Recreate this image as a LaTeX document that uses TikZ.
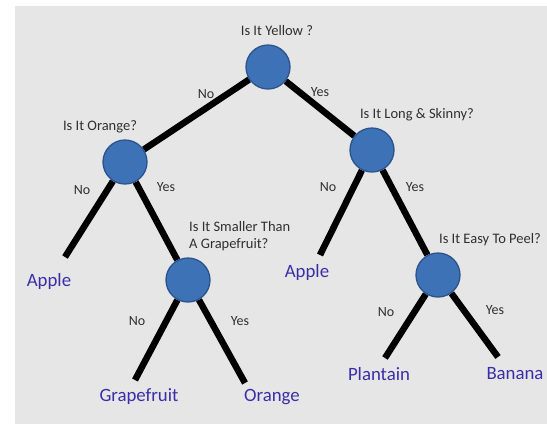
\documentclass[tikz,border=0pt]{standalone}
\usepackage{fontspec}
\setmainfont{Carlito}
\definecolor{panel}{RGB}{230,230,230}
\definecolor{nodefill}{RGB}{62,114,183}
\definecolor{nodeedge}{RGB}{44,84,140}
\definecolor{leafblue}{RGB}{58,46,168}
\definecolor{txtgray}{RGB}{48,48,48}
\pgfdeclarelayer{background}
\pgfsetlayers{background,main}
\tikzset{
  decision/.style={circle, minimum size=44pt, inner sep=0pt, fill=nodefill, draw=nodeedge, line width=1.3pt},
  branch/.style={line width=6.5pt, black},
  question/.style={text=txtgray, font=\fontsize{14.5}{17}\selectfont, inner sep=0pt},
  answer/.style={text=txtgray, font=\fontsize{14}{16}\selectfont, inner sep=0pt},
  leaf/.style={text=leafblue, font=\fontsize{18.8}{21}\selectfont, inner sep=0pt},
}
\begin{document}
\begin{tikzpicture}[x=1pt, y=-1pt]
  \useasboundingbox (0,0) rectangle (547,424);

  % decision nodes
  \node[decision] (yellow)  at (268,67)  {};
  \node[decision] (orange)  at (125,162) {};
  \node[decision] (skinny)  at (372,150) {};
  \node[decision] (smaller) at (188,280) {};
  \node[decision] (peel)    at (438,275) {};

  % free ends of the branches to the leaves
  \coordinate (eApple1) at (65,257);
  \coordinate (eGrape)  at (135,380);
  \coordinate (eOrange) at (245,383);
  \coordinate (eApple2) at (320,255);
  \coordinate (ePlant)  at (385,358);
  \coordinate (eBanana) at (498,357);

  % panel and branches, kept beneath the circles
  \begin{pgfonlayer}{background}
    \fill[panel] (15,6) rectangle (547,424);
    \draw[branch] (yellow) -- (orange);
    \draw[branch] (yellow) -- (skinny);
    \draw[branch] (orange) -- (eApple1);
    \draw[branch] (orange) -- (smaller);
    \draw[branch] (skinny) -- (eApple2);
    \draw[branch] (skinny) -- (peel);
    \draw[branch] (smaller) -- (eGrape);
    \draw[branch] (smaller) -- (eOrange);
    \draw[branch] (peel) -- (ePlant);
    \draw[branch] (peel) -- (eBanana);
  \end{pgfonlayer}

  % questions
  \node[question] (qYellow) at (277,31)  {Is It Yellow ?};
  \node[question] (qOrange) at (100,127) {Is It Orange?};
  \node[question] (qSkinny) at (417,115) {Is It Long \& Skinny?};
  \node[question, anchor=west, align=left] (qSmaller) at (189,236) {Is It Smaller Than\\A Grapefruit?};
  \node[question] (qPeel)   at (490,240) {Is It Easy To Peel?};

  % answers
  \node[answer] (a1) at (206,94)  {No};
  \node[answer] (a2) at (320,92)  {Yes};
  \node[answer] (a3) at (82,190)  {No};
  \node[answer] (a4) at (166,187) {Yes};
  \node[answer] (a5) at (328,187) {No};
  \node[answer] (a6) at (415,187) {Yes};
  \node[answer] (a7) at (137,321) {No};
  \node[answer] (a8) at (240,321) {Yes};
  \node[answer] (a9) at (386,312) {No};
  \node[answer] (a10) at (495,310) {Yes};

  % leaves
  \node[leaf] (lApple1) at (49,281)  {Apple};
  \node[leaf] (lGrape)  at (139,397) {Grapefruit};
  \node[leaf] (lOrange) at (272,397) {Orange};
  \node[leaf] (lApple2) at (307,272) {Apple};
  \node[leaf] (lPlant)  at (379,374) {Plantain};
  \node[leaf] (lBanana) at (515,374) {Banana};
\end{tikzpicture}
\end{document}
